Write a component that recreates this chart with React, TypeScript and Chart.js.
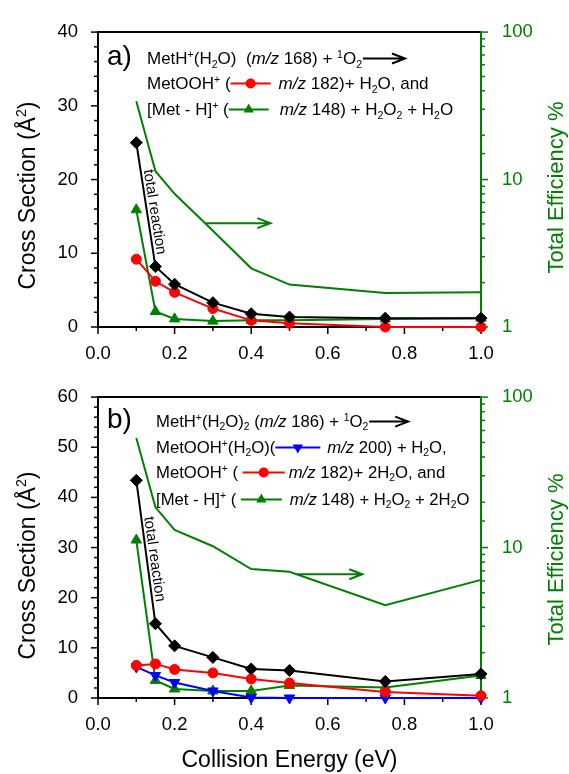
import React, { useEffect, useRef } from "react";
import { Chart, registerables } from "chart.js";

Chart.register(...registerables);

// ---------------- data ----------------
const energies = [0.1, 0.15, 0.2, 0.3, 0.4, 0.5, 0.75, 1.0];

// panel a: MetH+(H2O)
const aTotal = [25.0, 8.2, 5.8, 3.3, 1.8, 1.35, 1.2, 1.2];
const aMetOOH = [9.2, 6.2, 4.7, 2.5, 0.9, 0.5, 0.0, 0.0];
const aMetMinusH = [15.9, 2.1, 1.1, 0.8, 0.9, 0.9, 1.1, 1.2];
const aEfficiency = [34, 11.4, 8.0, 4.5, 2.5, 1.94, 1.7, 1.72];

// panel b: MetH+(H2O)2
const bTotal = [43.4, 14.8, 10.4, 8.1, 5.8, 5.5, 3.3, 4.8];
const bMetOOHH2O = [6.2, 4.5, 3.1, 1.4, 0.1, 0.0, 0.0, 0.0];
const bMetOOH = [6.5, 6.8, 5.7, 5.0, 3.8, 3.0, 1.2, 0.45];
const bMetMinusH = [31.5, 3.5, 1.8, 1.4, 1.4, 2.5, 2.1, 4.5];
const bEfficiency = [53.5, 18.5, 13.1, 10.2, 7.2, 6.9, 4.14, 6.1];

// tick labels
const xTickLabels = ["0.0", "0.2", "0.4", "0.6", "0.8", "1.0"];
const aLeftTickLabels = ["0", "10", "20", "30", "40"];
const bLeftTickLabels = ["0", "10", "20", "30", "40", "50", "60"];
const effTickLabels = ["1", "10", "100"];

// texts
const xTitle = "Collision Energy (eV)";
const leftTitle = "Cross Section (Å";
const rightTitle = "Total Efficiency %";
const totalLabel = "total reaction";

// ---------------- styles ----------------
const FONT = '"Liberation Sans", Arial, Helvetica, sans-serif';
const GREEN = "#008000";
const RED = "#ff0000";
const BLUE = "#0000ff";
const BLACK = "#000000";

type Style = "n" | "i" | "sup" | "sub";
type Seg =
  | [string, Style]
  | { sample: string; marker: string; w: number }
  | { arrow: number }
  | { gap: number };

const legendA: Seg[][] = [
  [["MetH", "n"], ["+", "sup"], ["(H", "n"], ["2", "sub"], ["O)  (", "n"], ["m/z", "i"], [" 168) + ", "n"], ["1", "sup"], ["O", "n"], ["2", "sub"], { arrow: 43 }],
  [["MetOOH", "n"], ["+", "sup"], [" (", "n"], { sample: RED, marker: "circle", w: 40 }, { gap: 8 }, ["m/z", "i"], [" 182)+ H", "n"], ["2", "sub"], ["O, and", "n"]],
  [["[Met - H]", "n"], ["+", "sup"], [" (", "n"], { sample: GREEN, marker: "triangle", w: 40 }, { gap: 11 }, ["m/z", "i"], [" 148) + H", "n"], ["2", "sub"], ["O", "n"], ["2", "sub"], [" + H", "n"], ["2", "sub"], ["O", "n"]],
];

const legendB: Seg[][] = [
  [["MetH", "n"], ["+", "sup"], ["(H", "n"], ["2", "sub"], ["O)", "n"], ["2", "sub"], [" (", "n"], ["m/z", "i"], [" 186) + ", "n"], ["1", "sup"], ["O", "n"], ["2", "sub"], { arrow: 40 }],
  [["MetOOH", "n"], ["+", "sup"], ["(H", "n"], ["2", "sub"], ["O)(", "n"], { sample: BLUE, marker: "down", w: 45 }, { gap: 7 }, ["m/z", "i"], [" 200) + H", "n"], ["2", "sub"], ["O,", "n"]],
  [["MetOOH", "n"], ["+", "sup"], [" ( ", "n"], { sample: RED, marker: "circle", w: 42 }, { gap: 4 }, ["m/z", "i"], [" 182)+ 2H", "n"], ["2", "sub"], ["O, and", "n"]],
  [["[Met - H]", "n"], ["+", "sup"], [" ( ", "n"], { sample: GREEN, marker: "triangle", w: 41 }, { gap: 8 }, ["m/z", "i"], [" 148) + H", "n"], ["2", "sub"], ["O", "n"], ["2", "sub"], [" + 2H", "n"], ["2", "sub"], ["O", "n"]],
];

interface Series {
  values: number[];
  color: string;
  marker: string | false;
  radius: number;
  rotation: number;
  axis: string;
  order: number;
}

interface PanelCfg {
  id: string;
  height: number;
  padTop: number;
  xAxisHeight: number;
  yMax: number;
  leftLabels: string[];
  series: Series[];
  tag: string;
  legend: Seg[][];
  legendX: number;
  legendY: number[];
  legendSize: number;
  arrow: { x0: number; x1: number; y: number };
  total: { x: number; y: number; angle: number };
  leftTitleOffset: number;
  rightTitleOffset: number;
  showXTitle: boolean;
}

const panelA: PanelCfg = {
  id: "a",
  height: 365,
  padTop: 20,
  xAxisHeight: 38,
  yMax: 40,
  leftLabels: aLeftTickLabels,
  series: [
    { values: aEfficiency, color: GREEN, marker: false, radius: 0, rotation: 0, axis: "y2", order: 4 },
    { values: aMetMinusH, color: GREEN, marker: "triangle", radius: 6, rotation: 0, axis: "y", order: 3 },
    { values: aMetOOH, color: RED, marker: "circle", radius: 5, rotation: 0, axis: "y", order: 2 },
    { values: aTotal, color: BLACK, marker: "rectRot", radius: 6, rotation: 0, axis: "y", order: 1 },
  ],
  tag: "a)",
  legend: legendA,
  legendX: 49,
  legendY: [32, 57, 83],
  legendSize: 17,
  arrow: { x0: 0.28, x1: 0.45, y: 5.06 },
  total: { x: 0.1475, y: 15.6, angle: 81 },
  leftTitleOffset: 16,
  rightTitleOffset: 8,
  showXTitle: false,
};

const panelB: PanelCfg = {
  id: "b",
  height: 409,
  padTop: 26,
  xAxisHeight: 76,
  yMax: 60,
  leftLabels: bLeftTickLabels,
  series: [
    { values: bEfficiency, color: GREEN, marker: false, radius: 0, rotation: 0, axis: "y2", order: 5 },
    { values: bMetMinusH, color: GREEN, marker: "triangle", radius: 6, rotation: 0, axis: "y", order: 4 },
    { values: bMetOOHH2O, color: BLUE, marker: "triangle", radius: 6, rotation: 180, axis: "y", order: 3 },
    { values: bMetOOH, color: RED, marker: "circle", radius: 5, rotation: 0, axis: "y", order: 2 },
    { values: bTotal, color: BLACK, marker: "rectRot", radius: 6, rotation: 0, axis: "y", order: 1 },
  ],
  tag: "b)",
  legend: legendB,
  legendX: 58,
  legendY: [30, 56, 81, 108],
  legendSize: 16.7,
  arrow: { x0: 0.52, x1: 0.69, y: 6.65 },
  total: { x: 0.147, y: 27.7, angle: 82 },
  leftTitleOffset: 18,
  rightTitleOffset: 12,
  showXTitle: true,
};

// ---------------- drawing helpers ----------------
function fontFor(style: Style, size: number) {
  const s = style === "sup" || style === "sub" ? size * 0.62 : size;
  return `${style === "i" ? "italic " : ""}${s}px ${FONT}`;
}

function segWidth(ctx: CanvasRenderingContext2D, seg: Seg, size: number) {
  if (Array.isArray(seg)) {
    ctx.font = fontFor(seg[1], size);
    return ctx.measureText(seg[0]).width;
  }
  if ("sample" in seg) return seg.w;
  if ("arrow" in seg) return seg.arrow;
  return seg.gap;
}

function drawMarker(ctx: CanvasRenderingContext2D, type: string, x: number, y: number, r: number, color: string) {
  ctx.save();
  ctx.fillStyle = color;
  ctx.beginPath();
  if (type === "circle") {
    ctx.arc(x, y, r, 0, Math.PI * 2);
  } else {
    const rot = type === "down" ? Math.PI : 0;
    for (let k = 0; k < 3; k++) {
      const a = rot + (k * 2 * Math.PI) / 3;
      const px = x + Math.sin(a) * r;
      const py = y - Math.cos(a) * r;
      if (k === 0) ctx.moveTo(px, py);
      else ctx.lineTo(px, py);
    }
    ctx.closePath();
  }
  ctx.fill();
  ctx.restore();
}

function drawArrow(ctx: CanvasRenderingContext2D, x0: number, x1: number, y: number, color: string) {
  ctx.save();
  ctx.strokeStyle = color;
  ctx.lineWidth = 2;
  ctx.beginPath();
  ctx.moveTo(x0, y);
  ctx.lineTo(x1, y);
  ctx.moveTo(x1 - 13, y - 5);
  ctx.lineTo(x1, y);
  ctx.lineTo(x1 - 13, y + 5);
  ctx.stroke();
  ctx.restore();
}

function drawRich(
  ctx: CanvasRenderingContext2D,
  segs: Seg[],
  x: number,
  y: number,
  size: number,
  color: string,
  center = false
) {
  let cx = x;
  if (center) {
    let total = 0;
    for (const s of segs) total += segWidth(ctx, s, size);
    cx = x - total / 2;
  }
  ctx.textAlign = "left";
  ctx.textBaseline = "alphabetic";
  const mid = y - size * 0.33;
  for (const s of segs) {
    const w = segWidth(ctx, s, size);
    if (Array.isArray(s)) {
      ctx.font = fontFor(s[1], size);
      ctx.fillStyle = color;
      const dy = s[1] === "sup" ? -size * 0.38 : s[1] === "sub" ? size * 0.2 : 0;
      ctx.fillText(s[0], cx, y + dy);
    } else if ("sample" in s) {
      ctx.save();
      ctx.strokeStyle = s.sample;
      ctx.lineWidth = 2;
      ctx.beginPath();
      ctx.moveTo(cx, mid);
      ctx.lineTo(cx + w, mid);
      ctx.stroke();
      ctx.restore();
      drawMarker(ctx, s.marker, cx + w / 2, mid, s.marker === "circle" ? 5 : 6, s.sample);
    } else if ("arrow" in s) {
      drawArrow(ctx, cx + 1, cx + w, mid, BLACK);
    }
    cx += w;
  }
}

function line(ctx: CanvasRenderingContext2D, x0: number, y0: number, x1: number, y1: number) {
  ctx.beginPath();
  ctx.moveTo(x0, y0);
  ctx.lineTo(x1, y1);
  ctx.stroke();
}

function makeOverlay(cfg: PanelCfg) {
  return {
    id: "overlay" + cfg.id,
    beforeDatasetsDraw(chart: any) {
      const { ctx, chartArea: a, scales } = chart;
      ctx.save();
      ctx.lineWidth = 1.5;
      ctx.strokeStyle = BLACK;
      for (const t of scales.x.ticks) {
        const p = scales.x.getPixelForValue(t.value);
        const major = t.label !== "" && t.label != null;
        line(ctx, p, a.bottom, p, a.bottom + (major ? 7 : 4));
      }
      for (const t of scales.y.ticks) {
        const p = scales.y.getPixelForValue(t.value);
        const major = t.label !== "" && t.label != null;
        line(ctx, a.left - (major ? 7 : 4), p, a.left, p);
      }
      ctx.strokeStyle = GREEN;
      for (const t of scales.y2.ticks) {
        const p = scales.y2.getPixelForValue(t.value);
        const major = t.label !== "" && t.label != null;
        line(ctx, a.right, p, a.right + (major ? 7 : 4), p);
      }
      ctx.lineWidth = 2;
      ctx.strokeStyle = BLACK;
      line(ctx, a.left, a.top, a.right, a.top);
      line(ctx, a.left, a.top - 1, a.left, a.bottom + 1);
      line(ctx, a.left - 1, a.bottom, a.right, a.bottom);
      ctx.strokeStyle = GREEN;
      line(ctx, a.right, a.top - 1, a.right, a.bottom + 1);
      ctx.restore();
    },
    afterDatasetsDraw(chart: any) {
      const { ctx, chartArea: a, scales } = chart;
      ctx.save();
      // panel tag
      ctx.font = `28px ${FONT}`;
      ctx.fillStyle = BLACK;
      ctx.textAlign = "left";
      ctx.textBaseline = "alphabetic";
      ctx.fillText(cfg.tag, a.left + 9, a.top + cfg.legendY[0] + 1);
      // legend
      cfg.legend.forEach((segs, i) => {
        drawRich(ctx, segs, a.left + cfg.legendX, a.top + cfg.legendY[i], cfg.legendSize, BLACK);
      });
      // efficiency arrow
      drawArrow(
        ctx,
        scales.x.getPixelForValue(cfg.arrow.x0),
        scales.x.getPixelForValue(cfg.arrow.x1),
        scales.y2.getPixelForValue(cfg.arrow.y),
        GREEN
      );
      // total reaction
      ctx.save();
      ctx.translate(scales.x.getPixelForValue(cfg.total.x), scales.y.getPixelForValue(cfg.total.y));
      ctx.rotate((cfg.total.angle * Math.PI) / 180);
      ctx.font = `15px ${FONT}`;
      ctx.fillStyle = BLACK;
      ctx.textAlign = "center";
      ctx.textBaseline = "middle";
      ctx.fillText(totalLabel, 0, 0);
      ctx.restore();
      const mid = (a.top + a.bottom) / 2;
      // left title
      ctx.save();
      ctx.translate(27, mid + cfg.leftTitleOffset);
      ctx.rotate(-Math.PI / 2);
      drawRich(ctx, [[leftTitle, "n"], ["2", "sup"], [")", "n"]], 0, 8, 23, BLACK, true);
      ctx.restore();
      // right title
      ctx.save();
      ctx.translate(555, mid + cfg.rightTitleOffset);
      ctx.rotate(-Math.PI / 2);
      drawRich(ctx, [[rightTitle, "n"]], 0, 8, 22, GREEN, true);
      ctx.restore();
      ctx.restore();
    },
  };
}

function buildConfig(cfg: PanelCfg): any {
  const datasets = cfg.series.map((s) => ({
    data: energies.map((x, i) => ({ x, y: s.values[i] })),
    yAxisID: s.axis,
    borderColor: s.color,
    backgroundColor: s.color,
    borderWidth: 2,
    pointStyle: s.marker || "circle",
    pointRadius: s.marker ? s.radius : 0,
    pointRotation: s.rotation,
    pointBorderWidth: 1,
    pointBorderColor: s.color,
    pointBackgroundColor: s.color,
    tension: 0,
    clip: false,
    order: s.order,
  }));
  const tickFont = { family: FONT, size: 18.5 };
  return {
    type: "line",
    data: { datasets },
    options: {
      responsive: false,
      animation: false,
      devicePixelRatio: 1,
      events: [],
      layout: { padding: { top: cfg.padTop, left: 0, right: 0, bottom: 0 } },
      plugins: { legend: { display: false }, tooltip: { enabled: false } },
      scales: {
        x: {
          type: "linear",
          min: 0,
          max: 1,
          grid: { display: false, drawTicks: false },
          border: { display: false },
          title: {
            display: cfg.showXTitle,
            text: xTitle,
            color: BLACK,
            font: { family: FONT, size: 23 },
            padding: { top: 0, bottom: 0 },
          },
          ticks: {
            stepSize: 0.1,
            maxTicksLimit: 100,
            autoSkip: false,
            maxRotation: 0,
            minRotation: 0,
            padding: 16,
            color: BLACK,
            font: tickFont,
            callback: (v: number) => {
              const l = (Math.round(v * 10) / 10).toFixed(1);
              return xTickLabels.includes(l) ? l : "";
            },
          },
          afterFit: (s: any) => {
            s.height = cfg.xAxisHeight;
          },
        },
        y: {
          type: "linear",
          position: "left",
          min: 0,
          max: cfg.yMax,
          grid: { display: false, drawTicks: false },
          border: { display: false },
          ticks: {
            stepSize: 2,
            maxTicksLimit: 100,
            autoSkip: false,
            padding: 20,
            color: BLACK,
            font: tickFont,
            callback: (v: number) => {
              const l = String(Math.round(v));
              return cfg.leftLabels.includes(l) ? l : "";
            },
          },
          afterFit: (s: any) => {
            s.width = 98;
          },
        },
        y2: {
          type: "logarithmic",
          position: "right",
          min: 1,
          max: 100,
          grid: { display: false, drawTicks: false },
          border: { display: false },
          ticks: {
            autoSkip: false,
            padding: 21,
            color: GREEN,
            font: tickFont,
            callback: (v: number) => {
              const l = String(Math.round(v));
              return effTickLabels.includes(l) && Math.abs(v - Math.round(v)) < 1e-9 ? l : "";
            },
          },
          afterFit: (s: any) => {
            s.width = 88;
          },
        },
      },
    },
    plugins: [makeOverlay(cfg)],
  };
}

function Panel({ cfg }: { cfg: PanelCfg }) {
  const ref = useRef<HTMLCanvasElement>(null);
  useEffect(() => {
    const chart = new Chart(ref.current as HTMLCanvasElement, buildConfig(cfg));
    return () => chart.destroy();
  }, [cfg]);
  return (
    <canvas
      ref={ref}
      width={569}
      height={cfg.height}
      style={{ display: "block", width: 569, height: cfg.height }}
    />
  );
}

export default function App() {
  return (
    <div style={{ position: "absolute", left: 0, top: 0, width: 569, height: 774, background: "#fff" }}>
      <Panel cfg={panelA} />
      <Panel cfg={panelB} />
    </div>
  );
}
